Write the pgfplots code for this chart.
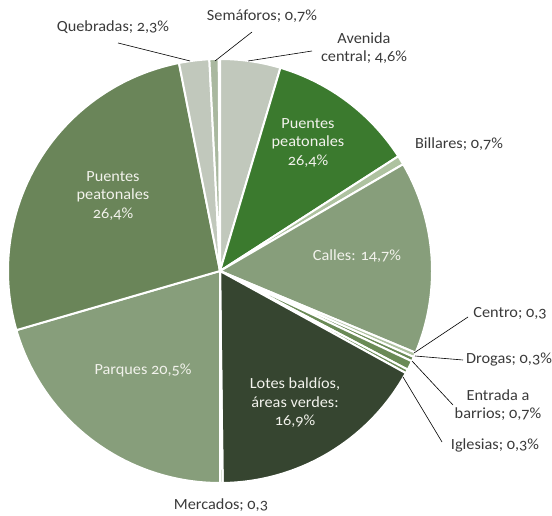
\documentclass[border=0pt]{standalone}
\usepackage{fontspec}
\setmainfont{Carlito}[Numbers=OldStyle, FakeStretch=1.05]
\usepackage{pgfplots}
\pgfplotsset{compat=1.18}
\definecolor{avenida}{HTML}{C1C8BC}
\definecolor{puentesB}{HTML}{3B7A2E}
\definecolor{billares}{HTML}{AEC2A0}
\definecolor{calles}{HTML}{879E7B}
\definecolor{centro}{HTML}{AEC2A0}
\definecolor{drogas}{HTML}{6A8A56}
\definecolor{entrada}{HTML}{6A8A56}
\definecolor{iglesias}{HTML}{6A8A56}
\definecolor{lotes}{HTML}{364530}
\definecolor{mercados}{HTML}{879E7B}
\definecolor{parques}{HTML}{879E7B}
\definecolor{puentesA}{HTML}{6A8559}
\definecolor{quebradas}{HTML}{C1C8BC}
\definecolor{semaforos}{HTML}{A9B89F}
\definecolor{labelgray}{HTML}{3A3A3A}
\definecolor{inlabel}{HTML}{F2F2EC}

\begin{document}
\begin{tikzpicture}
\begin{axis}[
  width=552bp, height=516bp, scale only axis,
  xmin=0, xmax=552, ymin=0, ymax=516,
  hide axis, clip=false,
]
% slice shares in %, clockwise from 12 o'clock
\xdef\angA{0}
\foreach \v/\c in {4.6/avenida, 11.3/puentesB, 0.7/billares, 14.7/calles,
  0.35/centro, 0.35/drogas, 0.7/entrada, 0.3/iglesias, 16.8/lotes,
  0.2/mercados, 20.5/parques, 26.4/puentesA, 2.3/quebradas, 0.7/semaforos}{
  \pgfmathsetmacro\angB{\angA+3.6*\v}
  \edef\temp{\noexpand\addplot[fill=\c, draw=white, line width=2bp,
    line join=round, domain=\angA:\angB, samples=90]
    ({220+212*sin(x)},{245+212*cos(x)}) -- (220,245) -- cycle;}
  \temp
  \xdef\angA{\angB}
}

\tikzset{outl/.style={font=\fontsize{15.5bp}{18.5bp}\selectfont, text=labelgray, align=center, inner sep=0pt},
         inl/.style={font=\fontsize{15.5bp}{18.5bp}\selectfont, text=inlabel, align=center, inner sep=0pt},
         lead/.style={draw=black, line width=0.6bp}}

% leader lines
\draw[lead] (252,484) -- (215,455);
\draw[lead] (118,473) -- (190,455);
\draw[lead] (312,465) -- (248,455);
\draw[lead] (468,199) -- (414,163);
\draw[lead] (463,156) -- (415,160);
\draw[lead] (453,111) -- (412,155);
\draw[lead] (442,74) -- (403,139);

% outside labels
\node[outl] at (262,500) {Semáforos; 0,7\%};
\node[outl] at (113,489) {Quebradas; 2,3\%};
\node[outl] at (364,468) {Avenida\\central; 4,6\%};
\node[outl] at (459,372) {Billares; 0,7\%};
\node[outl] at (510,203) {Centro; 0,3};
\node[outl] at (509,156) {Drogas; 0,3\%};
\node[outl] at (498,111) {Entrada a\\barrios; 0,7\%};
\node[outl] at (495,71) {Iglesias; 0,3\%};
\node[outl] at (221,11) {Mercados; 0,3};

% inside labels
\node[inl] at (308,373) {Puentes\\peatonales\\26,4\%};
\node[inl] at (357,260) {Calles: 14,7\%};
\node[inl] at (295,113) {Lotes baldíos,\\áreas verdes:\\16,9\%};
\node[inl] at (143,146) {Parques 20,5\%};
\node[inl] at (113,320) {Puentes\\peatonales\\26,4\%};
\end{axis}
\pgfresetboundingbox
\path[use as bounding box] (0,0) rectangle (552bp,516bp);
\end{tikzpicture}
\end{document}
